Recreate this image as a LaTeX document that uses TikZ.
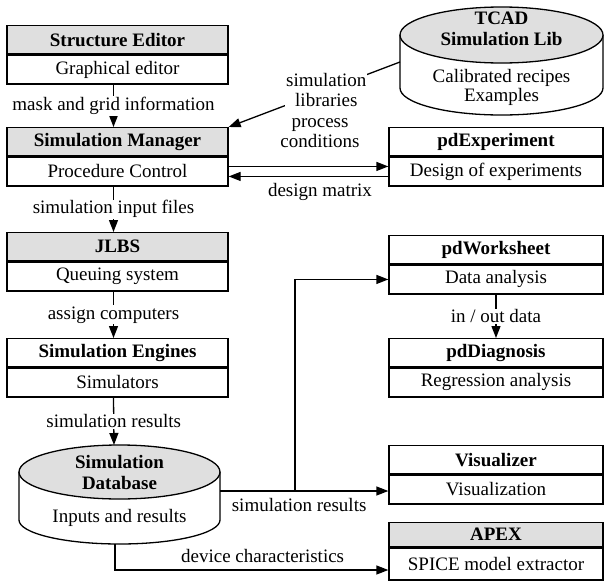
\documentclass[tikz,border=0pt]{standalone}
\usepackage{fontspec}
\setmainfont{Liberation Serif}
\usetikzlibrary{arrows.meta}

\begin{document}
\begin{tikzpicture}[x=1pt,y=-1pt,line width=1.3pt,
	every node/.style={font=\fontsize{19}{19.5}\selectfont},
	bold/.style={font=\fontsize{19}{21}\selectfont\bfseries},
	head/.style={draw,bold,anchor=north,inner sep=0pt,minimum height=28pt},
	body/.style={draw,anchor=north,inner sep=0pt,minimum height=29pt},
	lbox/.style={minimum width=221pt},
	rbox/.style={minimum width=214pt},
	grey/.style={fill=gray!25},
	lab/.style={fill=white,inner sep=1pt,align=center},
	tip/.style={-{Triangle[length=12pt,width=9pt]}}]
	\useasboundingbox (0,0) rectangle (606,581);

	\node[head,grey,lbox] (sehead) at (117.5,25) {Structure Editor};
	\node[body,lbox] (sebody) at (sehead.south) {Graphical editor};
	\node[head,grey,lbox] (smhead) at (117.5,127) {Simulation Manager};
	\node[body,lbox] (smbody) at (smhead.south) {Procedure Control};
	\node[head,grey,lbox] (jlhead) at (117.5,232) {JLBS};
	\node[body,lbox] (jlbody) at (jlhead.south) {Queuing system};
	\node[head,lbox] (enhead) at (117.5,338) {Simulation Engines};
	\node[body,lbox] (enbody) at (enhead.south) {Simulators};

	\node[head,rbox] (exhead) at (496,127) {pdExperiment};
	\node[body,rbox] (exbody) at (exhead.south) {Design of experiments};
	\node[head,rbox] (wshead) at (496,235) {pdWorksheet};
	\node[body,rbox] (wsbody) at (wshead.south) {Data analysis};
	\node[head,rbox] (dghead) at (496,338) {pdDiagnosis};
	\node[body,rbox] (dgbody) at (dghead.south) {Regression analysis};
	\node[head,rbox] (vihead) at (496,445) {Visualizer};
	\node[body,rbox] (vibody) at (vihead.south) {Visualization};
	\node[head,grey,rbox,minimum height=24pt] (aphead) at (496,522) {APEX};
	\node[body,rbox,minimum height=32pt] (apbody) at (aphead.south) {SPICE model extractor};

	\fill[white] (400,35) -- (400,88) arc[start angle=180,end angle=0,x radius=101.5,y radius=27] -- (603,35) -- cycle;
	\draw (400,35) -- (400,88) arc[start angle=180,end angle=0,x radius=101.5,y radius=27] -- (603,35);
	\draw[grey] (501.5,35) ellipse[x radius=101.5,y radius=28];
	\node[bold,align=center] (tcadname) at (501.5,29) {TCAD\\Simulation Lib};
	\node[align=center] (tcadtext) at (501.5,87.5) {Calibrated recipes\\Examples};
	\coordinate (tcadleft) at (400,62);

	\fill[white] (19,472) -- (19,520) arc[start angle=180,end angle=0,x radius=100.5,y radius=24] -- (220,472) -- cycle;
	\draw (19,472) -- (19,520) arc[start angle=180,end angle=0,x radius=100.5,y radius=24] -- (220,472);
	\draw[grey] (119.5,472) ellipse[x radius=100.5,y radius=27];
	\node[bold,align=center] (dbname) at (119.5,472) {Simulation\\Database};
	\node (dbtext) at (119.5,518) {Inputs and results};
	\coordinate (dbtop) at (114,445);
	\coordinate (dbright) at (220,491);
	\coordinate (dbbot) at (115,544);
	\coordinate (fork) at (295,491);
	\coordinate (corner) at (115,570);

	\draw[tip] ([xshift=-4pt]sebody.south) -- node[lab]{mask and grid information} ([xshift=-4pt]smhead.north);
	\draw[tip] ([xshift=-4pt]smbody.south) -- node[lab]{simulation input files} ([xshift=-4pt]jlhead.north);
	\draw[tip] ([xshift=-4pt]jlbody.south) -- node[lab]{assign computers} ([xshift=-4pt]enhead.north);
	\draw[tip] ([xshift=-4pt]enbody.south) -- node[lab]{simulation results} (dbtop);
	\draw[tip] (tcadleft) -- node[lab,pos=0.43]{simulation\\libraries} (smhead.north east);
	\draw[tip] ([yshift=5pt]smbody.east) -- ([yshift=5pt]smbody.east -| exbody.west);
	\draw[tip] ([yshift=-5pt]exbody.west) -- ([yshift=-5pt]exbody.west -| smbody.east);
	\node[align=center] (proc) at (320,133) {process\\conditions};
	\node (matrix) at (320,192) {design matrix};
	\draw[tip] (wsbody) -- node[lab]{in / out data} (dghead);
	\draw[tip] (dbright) -- node[below=3pt,pos=0.47]{simulation results} (dbright -| vibody.west);
	\draw[tip] (fork) |- (wsbody.west);
	\draw[tip] (dbbot) -- (corner) -- node[above=3pt,pos=0.54]{device characteristics} (corner -| apbody.west);
\end{tikzpicture}
\end{document}
